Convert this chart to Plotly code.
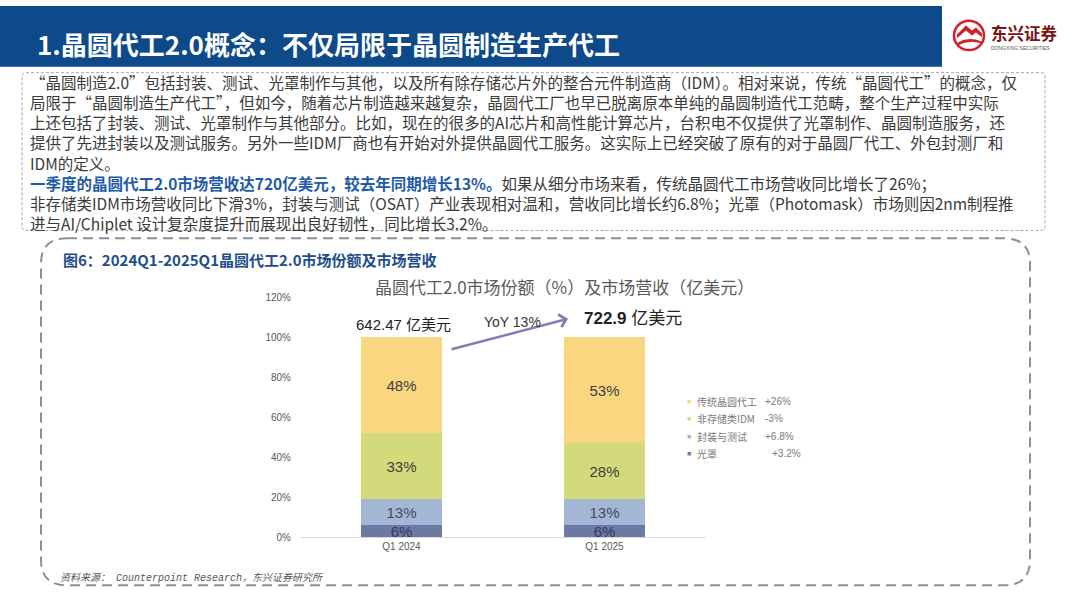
import plotly.graph_objects as go

W, H = 1080, 607

# ---- data ----
quarters = ["Q1 2024", "Q1 2025"]
segments = ["光罩", "封装与测试", "非存储类IDM", "传统晶圆代工"]   # bottom -> top
share_photomask = [0.06, 0.06]
share_osat = [0.13, 0.13]
share_idm = [0.33, 0.28]
share_foundry = [0.48, 0.53]
segment_yoy = ["+3.2%", "+6.8%", "-3%", "+26%"]
revenue = [642.47, 722.9]          # 亿美元
total_yoy = "YoY 13%"
y_ticks = [0, 0.2, 0.4, 0.6, 0.8, 1.0, 1.2]

seg_colors = ["#6d79a5", "#a3b6d3", "#d3da7c", "#f9d67f"]
seg_text_colors = ["#323c5c", "#3f4c6c", "#3f3f3f", "#3f3f3f"]

body_lines = [
    "“晶圆制造2.0”包括封装、测试、光罩制作与其他，以及所有除存储芯片外的整合元件制造商（IDM）。相对来说，传统“晶圆代工”的概念，仅",
    "局限于“晶圆制造生产代工”，但如今，随着芯片制造越来越复杂，晶圆代工厂也早已脱离原本单纯的晶圆制造代工范畴，整个生产过程中实际",
    "上还包括了封装、测试、光罩制作与其他部分。比如，现在的很多的AI芯片和高性能计算芯片，台积电不仅提供了光罩制作、晶圆制造服务，还",
    "提供了先进封装以及测试服务。另外一些IDM厂商也有开始对外提供晶圆代工服务。这实际上已经突破了原有的对于晶圆厂代工、外包封测厂和",
    "IDM的定义。",
    "<span style='color:#1f5aa6'><b>一季度的晶圆代工2.0市场营收达720亿美元，较去年同期增长13%。</b></span>如果从细分市场来看，传统晶圆代工市场营收同比增长了26%；",
    "非存储类IDM市场营收同比下滑3%，封装与测试（OSAT）产业表现相对温和，营收同比增长约6.8%；光罩（Photomask）市场则因2nm制程推",
    "进与AI/Chiplet 设计复杂度提升而展现出良好韧性，同比增长3.2%。",
]

CJK = "Noto Sans CJK SC"
SANS = "Liberation Sans, Noto Sans CJK SC"


def px(x):
    return x / W


def py(y):
    return 1 - y / H


def path(points):
    # points in pixels -> paper path string
    out = []
    for p in points:
        if p[0] == "Z":
            out.append("Z")
        elif p[0] == "Q":
            out.append(f"Q{px(p[1]):.5f},{py(p[2]):.5f} {px(p[3]):.5f},{py(p[4]):.5f}")
        else:
            out.append(f"{p[0]}{px(p[1]):.5f},{py(p[2]):.5f}")
    return " ".join(out)


def rounded_rect(x0, y0, x1, y1, r):
    return path([
        ("M", x0 + r, y0), ("L", x1 - r, y0), ("Q", x1, y0, x1, y0 + r),
        ("L", x1, y1 - r), ("Q", x1, y1, x1 - r, y1), ("L", x0 + r, y1),
        ("Q", x0, y1, x0, y1 - r), ("L", x0, y0 + r), ("Q", x0, y0, x0 + r, y0), ("Z",),
    ])


shares = [share_photomask, share_osat, share_idm, share_foundry]

fig = go.Figure()
for name, vals, col, tcol in zip(segments, shares, seg_colors, seg_text_colors):
    fig.add_trace(go.Bar(
        x=quarters, y=vals, name=name,
        marker=dict(color=col, line=dict(width=0)),
        width=0.4,
        text=[f"{v:.0%}" for v in vals],
        textposition="inside", insidetextanchor="middle",
        constraintext="none", textangle=0,
        textfont=dict(size=15, color=tcol, family=SANS),
        hoverinfo="skip",
    ))

shapes = [
    # header bar
    dict(type="rect", xref="paper", yref="paper", x0=0, x1=px(942), y0=py(62), y1=1,
         fillcolor="#0e4a8a", line=dict(width=0), layer="below"),
    # text box
    dict(type="path", xref="paper", yref="paper", path=rounded_rect(22, 68, 1045, 229, 4),
         line=dict(color="#a8a8a8", width=1, dash="3px,2px")),
    # chart frame
    dict(type="path", xref="paper", yref="paper", path=rounded_rect(41, 237, 1030, 591, 26),
         line=dict(color="#8d9099", width=2, dash="10px,6px")),
    # logo
    dict(type="circle", xref="paper", yref="paper", x0=px(954), x1=px(984), y0=py(45), y1=py(15),
         fillcolor="white", line=dict(color="#d4202a", width=2.5)),
    dict(type="path", xref="paper", yref="paper",
         path=path([("M", 957, 29), ("L", 966, 20), ("L", 972, 25), ("L", 976, 22), ("L", 982, 28),
                    ("L", 982, 32), ("L", 976, 27), ("L", 972, 30), ("L", 966, 25), ("L", 957, 33), ("Z",)]),
         fillcolor="#d4202a", line=dict(width=0)),
    dict(type="path", xref="paper", yref="paper",
         path=path([("M", 958, 37), ("Q", 969, 31, 981, 36), ("L", 981, 38), ("Q", 969, 34, 958, 40), ("Z",)]),
         fillcolor="#d4202a", line=dict(width=0)),
]

ann = []
# header title
ann.append(dict(x=px(35), y=py(38), xref="paper", yref="paper", xanchor="left", yanchor="middle",
                text="<b>1.晶圆代工2.0概念：不仅局限于晶圆制造生产代工</b>", showarrow=False,
                font=dict(family=CJK, size=26, color="white")))
ann.append(dict(x=px(989), y=py(28), xref="paper", yref="paper", xanchor="left", yanchor="middle",
                text="<b>东兴证券</b>", showarrow=False, font=dict(family=CJK, size=16.5, color="#7a1414")))
ann.append(dict(x=px(989), y=py(43), xref="paper", yref="paper", xanchor="left", yanchor="middle",
                text="DONGXING SECURITIES", showarrow=False, font=dict(family=SANS, size=5, color="#555555")))

# body paragraph, one block
ann.append(dict(x=px(28), y=py(149.5), xref="paper", yref="paper", xanchor="left", yanchor="middle",
                align="left", text="<br>".join(body_lines), showarrow=False,
                font=dict(family=CJK, size=15.5, color="#3a3a3a")))

# figure caption / chart title / source
ann.append(dict(x=px(61), y=py(259), xref="paper", yref="paper", xanchor="left", yanchor="middle",
                text="<b>图6：2024Q1-2025Q1晶圆代工2.0市场份额及市场营收</b>", showarrow=False,
                font=dict(family=CJK, size=15, color="#1f4e8c")))
ann.append(dict(x=px(564), y=py(286), xref="paper", yref="paper", xanchor="center", yanchor="middle",
                text="晶圆代工2.0市场份额（%）及市场营收（亿美元）", showarrow=False,
                font=dict(family=CJK, size=17, color="#5a5a5a")))
ann.append(dict(x=px(58), y=py(584), xref="paper", yref="paper", xanchor="left", yanchor="middle",
                text="<i>资料来源： Counterpoint Research，东兴证券研究所</i>", showarrow=False,
                font=dict(family="Liberation Mono, Noto Sans CJK SC", size=10, color="#555555")))

# revenue labels on top of bars
rev_shift = [(2, 2), (28, 7)]
rev_size = [15, 17]
rev_bold = [False, True]
for q, r, (dx, dy), fs, b in zip(quarters, revenue, rev_shift, rev_size, rev_bold):
    num = f"<b>{r:g}</b>" if b else f"{r:g}"
    ann.append(dict(x=q, y=1.0, xref="x", yref="y", xanchor="center", yanchor="bottom",
                    xshift=dx, yshift=dy, text=f"{num} 亿美元", showarrow=False,
                    font=dict(family=SANS, size=fs, color="#222222")))

# growth arrow
ann.append(dict(x=px(568), y=py(319), xref="paper", yref="paper", ax=-118, ay=31,
                axref="pixel", ayref="pixel", text="", showarrow=True,
                arrowhead=4, arrowsize=1, arrowwidth=2.5, arrowcolor="#7b80b4"))
ann.append(dict(x=px(512), y=py(322), xref="paper", yref="paper", xanchor="center", yanchor="middle",
                text=total_yoy, showarrow=False, font=dict(family=SANS, size=14, color="#333333")))

# legend (top -> bottom)
leg_y = [403, 421, 439, 457]
for i, yy in enumerate(leg_y):
    k = len(segments) - 1 - i
    ann.append(dict(x=px(689), y=py(yy), xref="paper", yref="paper", xanchor="center", yanchor="middle",
                    text="■", showarrow=False, font=dict(family=SANS, size=7, color=seg_colors[k])))
    ann.append(dict(x=px(695), y=py(yy), xref="paper", yref="paper", xanchor="left", yanchor="middle",
                    text=segments[k], showarrow=False, font=dict(family=CJK, size=10, color="#7a7a7a")))
    vx = 770 if k == 0 else 763
    ann.append(dict(x=px(vx), y=py(yy), xref="paper", yref="paper", xanchor="left", yanchor="middle",
                    text=segment_yoy[k], showarrow=False, font=dict(family=SANS, size=10, color="#7a7a7a")))

fig.update_layout(
    width=W, height=H, autosize=False,
    margin=dict(l=0, r=0, t=0, b=0),
    paper_bgcolor="white", plot_bgcolor="white",
    barmode="stack", showlegend=False,
    uniformtext=dict(minsize=15, mode="show"),
    shapes=shapes, annotations=ann,
    xaxis=dict(domain=[px(300), px(706)], showline=True, linecolor="#d9d9d9", linewidth=1,
               ticks="", showgrid=False, tickfont=dict(family=SANS, size=10, color="#595959")),
    yaxis=dict(domain=[py(542), py(297)], range=[0, 1.2], tickvals=y_ticks, tickformat=".0%",
               showgrid=False, zeroline=False, showline=False, ticks="", ticklabelstandoff=8,
               tickfont=dict(family=SANS, size=10, color="#595959")),
)

# the page body has a default 8px margin; drop it so the figure sits at the window origin
fig.write_html("out.html", config={"displayModeBar": False},
               post_script="document.body.style.margin='0';")
